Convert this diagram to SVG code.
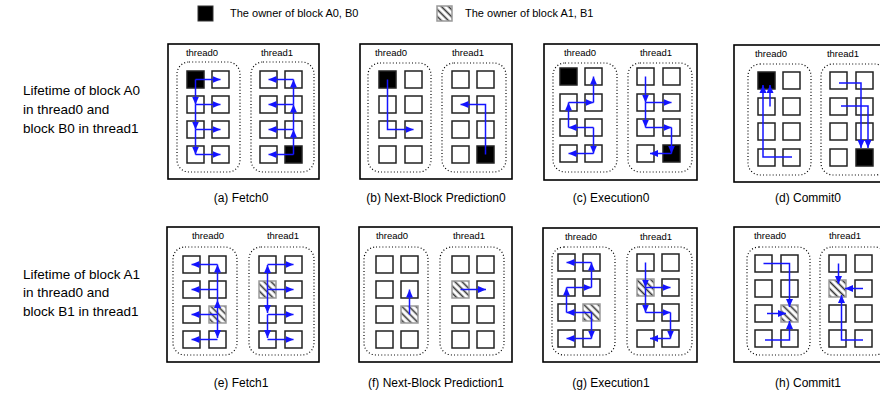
<svg xmlns="http://www.w3.org/2000/svg" width="880" height="399" viewBox="0 0 880 399">
<defs>
<style>
text{font-family:"Liberation Sans",Arial,sans-serif;fill:#000}
.lg{font-size:11px}
.side{font-size:13.5px}
.cap{font-size:12px;text-anchor:middle}
.tl{font-size:9.5px;text-anchor:middle}
.frame{fill:#fff;stroke:#000;stroke-width:1.6}
.thr{fill:none;stroke:#000;stroke-width:1.2;stroke-dasharray:1 2.2}
.sq{fill:#fff;stroke:#222;stroke-width:1.5}
.blk{fill:#000;stroke:#222;stroke-width:1.5}
.hat{fill:url(#hatch);stroke:#999;stroke-width:1.5}
.arr{fill:none;stroke:#1414ff;stroke-width:1.5;marker-end:url(#ah)}
</style>
<pattern id="hatch" width="5" height="5" patternUnits="userSpaceOnUse" patternTransform="rotate(-45)">
<rect width="5" height="5" fill="#fff"/>
<line x1="2.5" y1="0" x2="2.5" y2="5" stroke="#333" stroke-width="1.6"/>
</pattern>
<marker id="ah" markerUnits="userSpaceOnUse" markerWidth="8" markerHeight="8" viewBox="0 0 8 8" refX="8" refY="4" orient="auto">
<path d="M0,0.5 L8,4 L0,7.5 z" fill="#1414ff"/>
</marker>
</defs>
<rect width="880" height="399" fill="#fff"/>

<g id="legend">
<rect x="198" y="6" width="15" height="15" fill="#000" stroke="#333"/>
<text class="lg" x="230" y="17">The owner of block A0, B0</text>
<rect x="437" y="6" width="15" height="15" class="hat"/>
<text class="lg" x="465" y="17">The owner of block A1, B1</text>
</g>

<g id="row-labels">
<text class="side" x="23" y="95">Lifetime of block A0</text>
<text class="side" x="23" y="114">in thread0 and</text>
<text class="side" x="23" y="133">block B0 in thread1</text>
<text class="side" x="23" y="279">Lifetime of block A1</text>
<text class="side" x="23" y="297">in thread0 and</text>
<text class="side" x="23" y="316">block B1 in thread1</text>
</g>

<g id="panel-a">
<rect class="frame" x="168" y="44" width="151" height="135"/>
<text class="tl" x="202" y="56">thread0</text><text class="tl" x="277" y="56">thread1</text>
<rect class="thr" x="177" y="62" width="63" height="110" rx="12"/>
<rect class="thr" x="251" y="62" width="63" height="110" rx="12"/>
<g id="a-t0"><rect class="blk" x="187" y="71" width="17" height="17"/><rect class="sq" x="212" y="71" width="17" height="17"/><rect class="sq" x="187" y="96" width="17" height="17"/><rect class="sq" x="212" y="96" width="17" height="17"/><rect class="sq" x="187" y="121" width="17" height="17"/><rect class="sq" x="212" y="121" width="17" height="17"/><rect class="sq" x="187" y="146" width="17" height="17"/><rect class="sq" x="212" y="146" width="17" height="17"/></g>
<g id="a-t1"><rect class="sq" x="260" y="71" width="17" height="17"/><rect class="sq" x="285" y="71" width="17" height="17"/><rect class="sq" x="260" y="96" width="17" height="17"/><rect class="sq" x="285" y="96" width="17" height="17"/><rect class="sq" x="260" y="121" width="17" height="17"/><rect class="sq" x="285" y="121" width="17" height="17"/><rect class="sq" x="260" y="146" width="17" height="17"/><rect class="blk" x="285" y="146" width="17" height="17"/></g>
<text class="cap" x="241" y="202">(a) Fetch0</text>
</g>

<g id="panel-b">
<rect class="frame" x="360" y="44" width="152" height="135"/>
<text class="tl" x="391" y="56">thread0</text><text class="tl" x="468" y="56">thread1</text>
<rect class="thr" x="368" y="63" width="63" height="109" rx="12"/>
<rect class="thr" x="442" y="63" width="64" height="109" rx="12"/>
<g id="b-t0"><rect class="blk" x="379" y="71" width="17" height="17"/><rect class="sq" x="405" y="71" width="17" height="17"/><rect class="sq" x="379" y="96" width="17" height="17"/><rect class="sq" x="405" y="96" width="17" height="17"/><rect class="sq" x="379" y="121" width="17" height="17"/><rect class="sq" x="405" y="121" width="17" height="17"/><rect class="sq" x="379" y="146" width="17" height="17"/><rect class="sq" x="405" y="146" width="17" height="17"/></g>
<g id="b-t1"><rect class="sq" x="452" y="71" width="17" height="17"/><rect class="sq" x="477" y="71" width="17" height="17"/><rect class="sq" x="452" y="96" width="17" height="17"/><rect class="sq" x="477" y="96" width="17" height="17"/><rect class="sq" x="452" y="121" width="17" height="17"/><rect class="sq" x="477" y="121" width="17" height="17"/><rect class="sq" x="452" y="146" width="17" height="17"/><rect class="blk" x="477" y="146" width="17" height="17"/></g>
<text class="cap" x="436" y="202">(b) Next-Block Prediction0</text>
</g>

<g id="panel-c">
<rect class="frame" x="544" y="44" width="153" height="136"/>
<text class="tl" x="580" y="56">thread0</text><text class="tl" x="656" y="56">thread1</text>
<rect class="thr" x="553" y="63" width="64" height="109" rx="12"/>
<rect class="thr" x="628" y="63" width="64" height="109" rx="12"/>
<g id="c-t0"><rect class="blk" x="560" y="68" width="17" height="17"/><rect class="sq" x="585" y="68" width="17" height="17"/><rect class="sq" x="560" y="94" width="17" height="17"/><rect class="sq" x="585" y="94" width="17" height="17"/><rect class="sq" x="560" y="119" width="17" height="17"/><rect class="sq" x="585" y="119" width="17" height="17"/><rect class="sq" x="560" y="145" width="17" height="17"/><rect class="sq" x="585" y="145" width="17" height="17"/></g>
<g id="c-t1"><rect class="sq" x="637" y="68" width="17" height="17"/><rect class="sq" x="663" y="68" width="17" height="17"/><rect class="sq" x="637" y="94" width="17" height="17"/><rect class="sq" x="663" y="94" width="17" height="17"/><rect class="sq" x="637" y="119" width="17" height="17"/><rect class="sq" x="663" y="119" width="17" height="17"/><rect class="sq" x="637" y="145" width="17" height="17"/><rect class="blk" x="663" y="145" width="17" height="17"/></g>
<text class="cap" x="611" y="202">(c) Execution0</text>
</g>

<g id="panel-d">
<rect class="frame" x="734" y="45" width="160" height="137"/>
<text class="tl" x="771" y="57">thread0</text><text class="tl" x="843" y="57">thread1</text>
<rect class="thr" x="748" y="64" width="63" height="111" rx="12"/>
<rect class="thr" x="821" y="64" width="66" height="111" rx="12"/>
<g id="d-t0"><rect class="blk" x="758" y="72" width="17" height="17"/><rect class="sq" x="783" y="72" width="17" height="17"/><rect class="sq" x="758" y="98" width="17" height="17"/><rect class="sq" x="783" y="98" width="17" height="17"/><rect class="sq" x="758" y="123" width="17" height="17"/><rect class="sq" x="783" y="123" width="17" height="17"/><rect class="sq" x="758" y="149" width="17" height="17"/><rect class="sq" x="783" y="149" width="17" height="17"/></g>
<g id="d-t1"><rect class="sq" x="830" y="72" width="17" height="17"/><rect class="sq" x="856" y="72" width="17" height="17"/><rect class="sq" x="830" y="98" width="17" height="17"/><rect class="sq" x="856" y="98" width="17" height="17"/><rect class="sq" x="830" y="123" width="17" height="17"/><rect class="sq" x="856" y="123" width="17" height="17"/><rect class="sq" x="830" y="149" width="17" height="17"/><rect class="blk" x="856" y="149" width="17" height="17"/></g>
<text class="cap" x="808" y="202">(d) Commit0</text>
</g>

<g id="panel-e">
<rect class="frame" x="167" y="227" width="152" height="135"/>
<text class="tl" x="208" y="239">thread0</text><text class="tl" x="283" y="239">thread1</text>
<rect class="thr" x="173" y="247" width="64" height="108" rx="12"/>
<rect class="thr" x="249" y="247" width="65" height="108" rx="12"/>
<g id="e-t0"><rect class="sq" x="183" y="256" width="17" height="17"/><rect class="sq" x="209" y="256" width="17" height="17"/><rect class="sq" x="183" y="281" width="17" height="17"/><rect class="sq" x="209" y="281" width="17" height="17"/><rect class="sq" x="183" y="306" width="17" height="17"/><rect class="hat" x="209" y="306" width="17" height="17"/><rect class="sq" x="183" y="331" width="17" height="17"/><rect class="sq" x="209" y="331" width="17" height="17"/></g>
<g id="e-t1"><rect class="sq" x="259" y="256" width="17" height="17"/><rect class="sq" x="285" y="256" width="17" height="17"/><rect class="hat" x="259" y="281" width="17" height="17"/><rect class="sq" x="285" y="281" width="17" height="17"/><rect class="sq" x="259" y="306" width="17" height="17"/><rect class="sq" x="285" y="306" width="17" height="17"/><rect class="sq" x="259" y="331" width="17" height="17"/><rect class="sq" x="285" y="331" width="17" height="17"/></g>
<text class="cap" x="241" y="387">(e) Fetch1</text>
</g>

<g id="panel-f">
<rect class="frame" x="359" y="227" width="153" height="135"/>
<text class="tl" x="392" y="239">thread0</text><text class="tl" x="469" y="239">thread1</text>
<rect class="thr" x="364" y="247" width="64" height="108" rx="12"/>
<rect class="thr" x="440" y="247" width="64" height="108" rx="12"/>
<g id="f-t0"><rect class="sq" x="376" y="256" width="17" height="17"/><rect class="sq" x="401" y="256" width="17" height="17"/><rect class="sq" x="376" y="281" width="17" height="17"/><rect class="sq" x="401" y="281" width="17" height="17"/><rect class="sq" x="376" y="306" width="17" height="17"/><rect class="hat" x="401" y="306" width="17" height="17"/><rect class="sq" x="376" y="331" width="17" height="17"/><rect class="sq" x="401" y="331" width="17" height="17"/></g>
<g id="f-t1"><rect class="sq" x="452" y="256" width="17" height="17"/><rect class="sq" x="477" y="256" width="17" height="17"/><rect class="hat" x="452" y="281" width="17" height="17"/><rect class="sq" x="477" y="281" width="17" height="17"/><rect class="sq" x="452" y="306" width="17" height="17"/><rect class="sq" x="477" y="306" width="17" height="17"/><rect class="sq" x="452" y="331" width="17" height="17"/><rect class="sq" x="477" y="331" width="17" height="17"/></g>
<text class="cap" x="436" y="387">(f) Next-Block Prediction1</text>
</g>

<g id="panel-g">
<rect class="frame" x="543" y="228" width="154" height="134"/>
<text class="tl" x="581" y="240">thread0</text><text class="tl" x="656" y="240">thread1</text>
<rect class="thr" x="552" y="247" width="63" height="108" rx="12"/>
<rect class="thr" x="627" y="247" width="65" height="108" rx="12"/>
<g id="g-t0"><rect class="sq" x="558" y="254" width="17" height="17"/><rect class="sq" x="583" y="254" width="17" height="17"/><rect class="sq" x="558" y="279" width="17" height="17"/><rect class="sq" x="583" y="279" width="17" height="17"/><rect class="sq" x="558" y="304" width="17" height="17"/><rect class="hat" x="583" y="304" width="17" height="17"/><rect class="sq" x="558" y="330" width="17" height="17"/><rect class="sq" x="583" y="330" width="17" height="17"/></g>
<g id="g-t1"><rect class="sq" x="637" y="254" width="17" height="17"/><rect class="sq" x="662" y="254" width="17" height="17"/><rect class="hat" x="637" y="279" width="17" height="17"/><rect class="sq" x="662" y="279" width="17" height="17"/><rect class="sq" x="637" y="304" width="17" height="17"/><rect class="sq" x="662" y="304" width="17" height="17"/><rect class="sq" x="637" y="330" width="17" height="17"/><rect class="sq" x="662" y="330" width="17" height="17"/></g>
<text class="cap" x="611" y="387">(g) Execution1</text>
</g>

<g id="panel-h">
<rect class="frame" x="734" y="227" width="160" height="135"/>
<text class="tl" x="770" y="239">thread0</text><text class="tl" x="845" y="239">thread1</text>
<rect class="thr" x="747" y="247" width="63" height="108" rx="12"/>
<rect class="thr" x="820" y="247" width="67" height="108" rx="12"/>
<g id="h-t0"><rect class="sq" x="755" y="255" width="17" height="17"/><rect class="sq" x="781" y="255" width="17" height="17"/><rect class="sq" x="755" y="280" width="17" height="17"/><rect class="sq" x="781" y="280" width="17" height="17"/><rect class="sq" x="755" y="305" width="17" height="17"/><rect class="hat" x="781" y="305" width="17" height="17"/><rect class="sq" x="755" y="330" width="17" height="17"/><rect class="sq" x="781" y="330" width="17" height="17"/></g>
<g id="h-t1"><rect class="sq" x="829" y="255" width="17" height="17"/><rect class="sq" x="855" y="255" width="17" height="17"/><rect class="hat" x="829" y="280" width="17" height="17"/><rect class="sq" x="855" y="280" width="17" height="17"/><rect class="sq" x="829" y="305" width="17" height="17"/><rect class="sq" x="855" y="305" width="17" height="17"/><rect class="sq" x="829" y="330" width="17" height="17"/><rect class="sq" x="855" y="330" width="17" height="17"/></g>
<text class="cap" x="808" y="387">(h) Commit1</text>
</g>

<g id="connectors">
<g id="arrows-a">
<path class="arr" d="M195.5,79.5 H220.5"/><path class="arr" d="M195.5,79.5 V104.5"/><path class="arr" d="M195.5,104.5 H220.5"/><path class="arr" d="M195.5,104.5 V129.5"/><path class="arr" d="M195.5,129.5 H220.5"/><path class="arr" d="M195.5,129.5 V154.5"/><path class="arr" d="M195.5,154.5 H220.5"/>
<path class="arr" d="M293.5,154.5 H268.5"/><path class="arr" d="M293.5,154.5 V129.5"/><path class="arr" d="M293.5,129.5 H268.5"/><path class="arr" d="M293.5,129.5 V104.5"/><path class="arr" d="M293.5,104.5 H268.5"/><path class="arr" d="M293.5,104.5 V79.5"/><path class="arr" d="M293.5,79.5 H268.5"/>
</g>
<g id="arrows-b">
<path class="arr" d="M387.5,79.5 V129.5 H413.5"/><path class="arr" d="M485.5,154.5 V104.5 H460.5"/>
</g>
<g id="arrows-c">
<path class="arr" d="M593.5,102.5 V76.5"/><path class="arr" d="M568.5,102.5 H593.5"/><path class="arr" d="M568.5,127.5 V102.5"/><path class="arr" d="M593.5,127.5 H568.5"/><path class="arr" d="M593.5,127.5 V153.5"/><path class="arr" d="M593.5,153.5 H568.5"/>
<path class="arr" d="M645.5,76.5 V102.5"/><path class="arr" d="M645.5,102.5 H671.5"/><path class="arr" d="M645.5,102.5 V127.5"/><path class="arr" d="M645.5,127.5 H671.5"/><path class="arr" d="M671.5,127.5 V153.5"/><path class="arr" d="M671.5,153.5 H650"/>
</g>
<g id="arrows-d">
<path class="arr" d="M770,106.5 V85"/><path class="arr" d="M792,157 H763 V85"/>
<path class="arr" d="M839,83 H861 V148"/><path class="arr" d="M841,106 H868 V148"/>
</g>
<g id="arrows-e">
<path class="arr" d="M217.5,314.5 V300"/><path class="arr" d="M217.5,300 V264.5"/><path class="arr" d="M217.5,314.5 V338"/>
<path class="arr" d="M217.5,264.5 H191.5"/><path class="arr" d="M217.5,289.5 H191.5"/><path class="arr" d="M217.5,314.5 H191.5"/><path class="arr" d="M217.5,339.5 H191.5"/>
<path class="arr" d="M267.5,289.5 V265"/><path class="arr" d="M267.5,289.5 V313"/><path class="arr" d="M267.5,314.5 V338"/>
<path class="arr" d="M267.5,264.5 H293.5"/><path class="arr" d="M267.5,289.5 H293.5"/><path class="arr" d="M267.5,314.5 H293.5"/><path class="arr" d="M267.5,339.5 H293.5"/>
</g>
<g id="arrows-f">
<path class="arr" d="M409.5,314.5 V289.5"/><path class="arr" d="M460.5,289.5 H486"/>
</g>
<g id="arrows-g">
<path class="arr" d="M591.5,312.5 H566.5"/><path class="arr" d="M591.5,312.5 V338.5"/><path class="arr" d="M591.5,338.5 H566.5"/><path class="arr" d="M566.5,312.5 V287.5"/><path class="arr" d="M566.5,287.5 H591.5"/><path class="arr" d="M591.5,287.5 V262.5"/><path class="arr" d="M591.5,262.5 H566.5"/>
<path class="arr" d="M645.5,262.5 V287.5"/><path class="arr" d="M645.5,287.5 H670.5"/><path class="arr" d="M645.5,287.5 V312.5"/><path class="arr" d="M645.5,312.5 H670.5"/><path class="arr" d="M670.5,312.5 V338.5"/><path class="arr" d="M670.5,338.5 H650"/>
</g>
<g id="arrows-h">
<path class="arr" d="M763.5,263.5 H789.5 V307"/><path class="arr" d="M767,313.5 H786"/><path class="arr" d="M765,340 H789.5 V321"/>
<path class="arr" d="M838.5,263.5 V284"/><path class="arr" d="M863,288.5 H845"/><path class="arr" d="M863,340 H841.5 V295"/>
</g>
</g>
</svg>
